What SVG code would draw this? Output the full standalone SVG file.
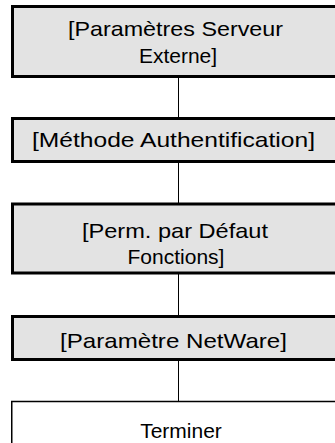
<svg xmlns="http://www.w3.org/2000/svg" width="335" height="443" viewBox="0 0 335 443">
<style>
.box{fill:#e3e3e3;stroke:#000;stroke-width:3}
.end{fill:#fff;stroke:#000;stroke-width:1.5}
.t{font-family:"Liberation Sans",Arial,sans-serif;font-size:21px;fill:#000;text-anchor:middle}
.c{stroke:#000;stroke-width:1;fill:none}
</style>
<g id="connectors">
<line class="c" x1="178.5" y1="78" x2="178.5" y2="120"/>
<line class="c" x1="178.5" y1="162" x2="178.5" y2="205"/>
<line class="c" x1="178.5" y1="274" x2="178.5" y2="317"/>
<line class="c" x1="178.5" y1="361" x2="178.5" y2="402"/>
</g>
<g id="n1">
<rect class="box" x="12.5" y="6.5" width="340" height="70"/>
<text class="t" x="175.5" y="36" textLength="215" lengthAdjust="spacingAndGlyphs">[Paramètres Serveur</text>
<text class="t" x="178" y="63">Externe]</text>
</g>
<g id="n2">
<rect class="box" x="12.5" y="118.5" width="340" height="43"/>
<text class="t" x="173.5" y="147" textLength="283" lengthAdjust="spacingAndGlyphs">[Méthode Authentification]</text>
</g>
<g id="n3">
<rect class="box" x="12.5" y="204" width="340" height="69"/>
<text class="t" x="175" y="238" textLength="186" lengthAdjust="spacingAndGlyphs">[Perm. par Défaut</text>
<text class="t" x="176" y="264">Fonctions]</text>
</g>
<g id="n4">
<rect class="box" x="12.5" y="316.5" width="340" height="43"/>
<text class="t" x="173.5" y="348" textLength="227" lengthAdjust="spacingAndGlyphs">[Paramètre NetWare]</text>
</g>
<g id="n5">
<rect class="end" x="11.75" y="401.5" width="340" height="60"/>
<text class="t" x="181" y="438">Terminer</text>
</g>
</svg>
